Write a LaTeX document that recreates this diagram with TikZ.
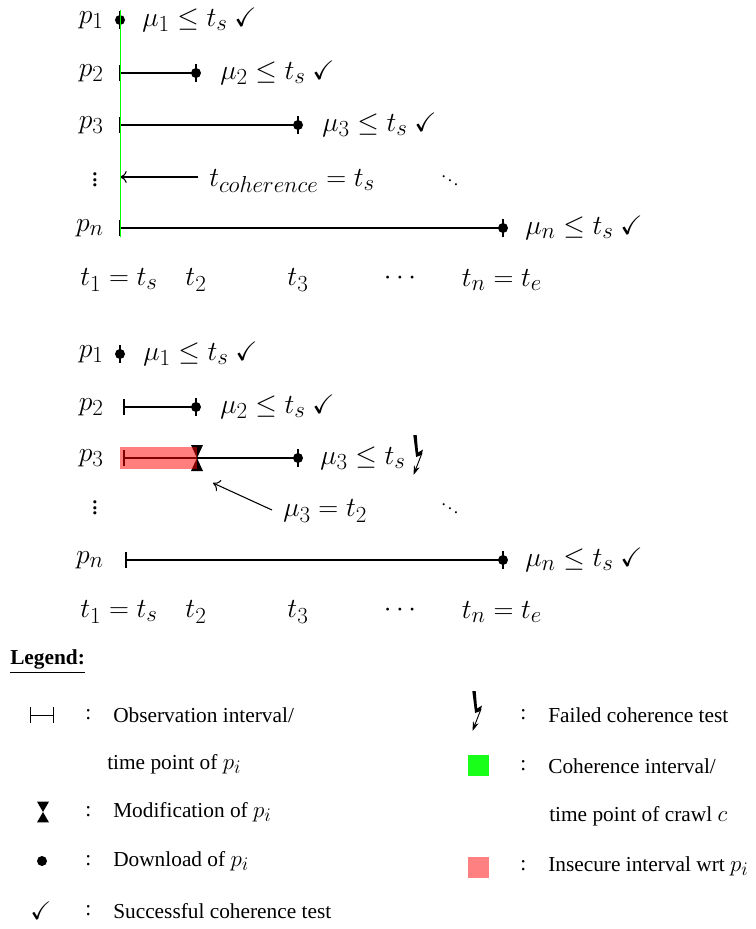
\documentclass[tikz,border=0pt]{standalone}
\usepackage{amssymb}
\usepackage{fontspec}
\setmainfont{Liberation Serif}
\DeclareMathSizes{20}{20}{16}{12}
\DeclareMathSizes{16}{19}{15}{11}
\usetikzlibrary{arrows.meta}
\tikzset{
  lbl/.style={inner sep=0pt,font=\fontsize{20}{24}\selectfont},
  ltxt/.style={inner sep=0pt,anchor=west,font=\fontsize{16}{19}\selectfont},
  dl/.style={circle,fill=black,inner sep=0pt,minimum size=7.5pt},
  iv/.style={line width=0.8pt},
  thin iv/.style={line width=0.6pt},
  cmarrow/.style={iv,-{Computer Modern Rightarrow[length=5pt,width=9pt]}},
  pics/bolt/.style={code={
    \fill (-1.2,0) -- (2.2,0) -- (3.6,17.5) -- (8.5,14.5) -- (7,20) -- (1.6,22) -- cycle;
    \draw[line width=0.7pt,-{Stealth[length=7pt,width=4.5pt]}] (7.5,18) -- (-1,40);
  }},
  pics/hglass/.style={code={
    \fill (-6,-13) -- (6,-13) -- (0,0) -- cycle;
    \fill (-6,13) -- (6,13) -- (0,0) -- cycle;
  }}
}
\begin{document}
\begin{tikzpicture}[x=0.75pt,y=-0.75pt]
\useasboundingbox (0,0) rectangle (756,929);

% ================= TOP DIAGRAM =================
\node[lbl,anchor=east] (tp1) at (104,20) {$p_1$};
\node[lbl,anchor=east] (tp2) at (104,73) {$p_2$};
\node[lbl,anchor=east] (tp3) at (104,125) {$p_3$};
\node[lbl] (tvd) at (95,176) {$\vdots$};
\node[lbl,anchor=east] (tpn) at (104,228) {$p_n$};

% row 1
\node[dl] (td1) at (120,20) {};
\draw[iv] (td1.center) ++(0,-9) -- ++(0,18);
\node[lbl,anchor=west] (tm1) at (142,20) {$\mu_1 \leq t_s$ \checkmark};
% row 2
\coordinate (ts2) at (120,73);
\node[dl] (td2) at (196,73) {};
\draw[iv] (ts2) -- (td2.center);
\draw[iv] (ts2) ++(0,-8) -- ++(0,16);
\draw[iv] (td2.center) ++(0,-9) -- ++(0,18);
\node[lbl,anchor=west] (tm2) at (220,73) {$\mu_2 \leq t_s$ \checkmark};
% row 3
\coordinate (ts3) at (120,125);
\node[dl] (td3) at (298,125) {};
\draw[iv] (ts3) -- (td3.center);
\draw[iv] (ts3) ++(0,-8) -- ++(0,16);
\draw[iv] (td3.center) ++(0,-9) -- ++(0,18);
\node[lbl,anchor=west] (tm3) at (322,125) {$\mu_3 \leq t_s$ \checkmark};
% row dots
\coordinate (ta0) at (198,177);
\coordinate (ta1) at (120,177);
\draw[cmarrow] (ta0) -- (ta1);
\node[lbl,anchor=west] (tcoh) at (209,181) {$t_{coherence} = t_s$};
\node[lbl,font=\fontsize{13}{15}\selectfont] (tdd) at (450,177) {$\ddots$};
% row n
\coordinate (tsn) at (120,228);
\node[dl] (tdn) at (503,228) {};
\draw[iv] (tsn) -- (tdn.center);
\draw[iv] (tsn) ++(0,-8) -- ++(0,16);
\draw[iv] (tdn.center) ++(0,-9) -- ++(0,18);
\node[lbl,anchor=west] (tmn) at (525,228) {$\mu_n \leq t_s$ \checkmark};
% coherence line
\coordinate (gtop) at (120.5,10);
\coordinate (gbot) at (120.5,237);
\draw[green,line width=0.9pt] (gtop) -- (gbot);
% time labels
\node[lbl] (tt1) at (119,280) {$t_1 = t_s$};
\node[lbl] (tt2) at (196,280) {$t_2$};
\node[lbl] (tt3) at (298,280) {$t_3$};
\node[lbl] (tt4) at (400,278) {$\cdots$};
\node[lbl] (tt5) at (502,280) {$t_n = t_e$};

% ================= BOTTOM DIAGRAM =================
\node[lbl,anchor=east] (bp1) at (104,354) {$p_1$};
\node[lbl,anchor=east] (bp2) at (104,407) {$p_2$};
\node[lbl,anchor=east] (bp3) at (104,458) {$p_3$};
\node[lbl] (bvd) at (95,504) {$\vdots$};
\node[lbl,anchor=east] (bpn) at (104,560) {$p_n$};

% row 1
\node[dl] (bd1) at (120,354) {};
\draw[iv] (bd1.center) ++(0,-9) -- ++(0,18);
\node[lbl,anchor=west] (bm1) at (143,354) {$\mu_1 \leq t_s$ \checkmark};
% row 2
\coordinate (bs2) at (124,407);
\node[dl] (bd2) at (196,407) {};
\draw[iv] (bs2) -- (bd2.center);
\draw[iv] (bs2) ++(0,-8) -- ++(0,16);
\draw[iv] (bd2.center) ++(0,-9) -- ++(0,18);
\node[lbl,anchor=west] (bm2) at (220,407) {$\mu_2 \leq t_s$ \checkmark};
% row 3
\coordinate (bs3) at (124,458);
\node[dl] (bd3) at (298,458) {};
\draw[iv] (bs3) -- (bd3.center);
\draw[iv] (bs3) ++(0,-8) -- ++(0,16);
\draw[iv] (bd3.center) ++(0,-9) -- ++(0,18);
\pic (bh3) at (197,458) {hglass};
\fill[red,opacity=0.5] (120,447) rectangle (197,469);
\node[lbl,anchor=west] (bm3) at (320,458) {$\mu_3 \leq t_s$};
\pic (bb3) at (414.5,435) {bolt};
% annotation
\coordinate (ba0) at (272,510);
\coordinate (ba1) at (213,483);
\draw[cmarrow] (ba0) -- (ba1);
\node[lbl,anchor=west] (bmu) at (283,511) {$\mu_3 = t_2$};
\node[lbl,font=\fontsize{13}{15}\selectfont] (bdd) at (450,505) {$\ddots$};
% row n
\coordinate (bsn) at (126,560);
\node[dl] (bdn) at (503,560) {};
\draw[iv] (bsn) -- (bdn.center);
\draw[iv] (bsn) ++(0,-8) -- ++(0,16);
\draw[iv] (bdn.center) ++(0,-9) -- ++(0,18);
\node[lbl,anchor=west] (bmn) at (525,560) {$\mu_n \leq t_s$ \checkmark};
% time labels
\node[lbl] (bt1) at (119,612) {$t_1 = t_s$};
\node[lbl] (bt2) at (196,612) {$t_2$};
\node[lbl] (bt3) at (298,612) {$t_3$};
\node[lbl] (bt4) at (400,610) {$\cdots$};
\node[lbl] (bt5) at (502,612) {$t_n = t_e$};

% ================= LEGEND =================
\node[ltxt] (lg) at (10,662) {\underline{\textbf{Legend:}}};

\coordinate (lo1) at (30,715);
\coordinate (lo2) at (53,715);
\draw[thin iv] (lo1) -- (lo2);
\draw[thin iv] (lo1) ++(0,-8) -- ++(0,16);
\draw[thin iv] (lo2) ++(0,-8) -- ++(0,16);
\node[ltxt] (lc1) at (85,715) {:};
\node[ltxt] (lt1) at (113,715) {Observation interval/};
\node[ltxt] (lt1b) at (107,764) {time point of $p_i$};
\pic[yscale=0.8] (lh) at (43,812) {hglass};
\node[ltxt] (lc2) at (85,812) {:};
\node[ltxt] (lt2) at (113,812) {Modification of $p_i$};
\node[dl] (ld) at (42,861) {};
\node[ltxt] (lc3) at (85,861) {:};
\node[ltxt] (lt3) at (113,861) {Download of $p_i$};
\node[ltxt,anchor=center] (lck) at (41,911) {\checkmark};
\node[ltxt] (lc4) at (85,911) {:};
\node[ltxt] (lt4) at (113,911) {Successful coherence test};

\pic (lb) at (473.5,691) {bolt};
\node[ltxt] (rc1) at (520,715) {:};
\node[ltxt] (rt1) at (548,715) {Failed coherence test};
\fill[green!90] (468,755) rectangle (489,776);
\node[ltxt] (rc2) at (520,766) {:};
\node[ltxt] (rt2) at (548,766) {Coherence interval/};
\node[ltxt] (rt2b) at (549,816) {time point of crawl $c$};
\fill[red!50] (468,857) rectangle (489,878);
\node[ltxt] (rc3) at (520,866) {:};
\node[ltxt] (rt3) at (548,866) {Insecure interval wrt $p_i$};
\end{tikzpicture}
\end{document}
